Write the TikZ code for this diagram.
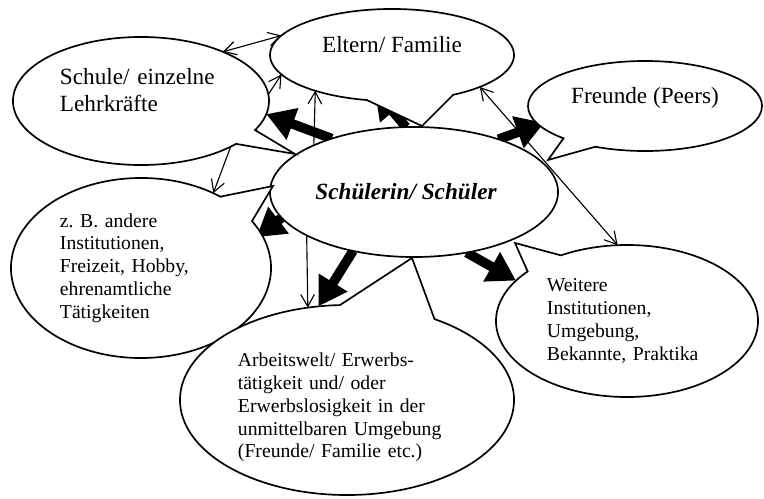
\documentclass[tikz,border=0pt]{standalone}
\usepackage{fontspec}
\setmainfont{Liberation Serif}
\usetikzlibrary{shapes.callouts,shapes.geometric,arrows.meta}
\pgfdeclarelayer{background}
\pgfsetlayers{background,main}
\frenchspacing

\begin{document}
\begin{tikzpicture}[x=0.025cm, y=-0.025cm,
    bubble/.style={ellipse callout, draw, fill=white, line width=1.2pt,
      inner sep=0pt, outer sep=0pt},
    pupilbox/.style={ellipse, draw, fill=white, line width=1.2pt,
      inner sep=0pt, outer sep=0pt},
    bigtext/.style={font=\fontsize{16.5}{19}\selectfont},
    smalltext/.style={font=\fontsize{14}{16.2}\selectfont, align=left},
    link/.style={line width=0.8pt, >={Straight Barb[length=3mm,width=3.4mm]}},
    bigarrow/.style={line width=0.24cm, -{Triangle[length=0.7cm,width=0.8cm]}}]

    % --- НАСТРОЙКИ ---
    \useasboundingbox (0,0) rectangle (764,499);

    % Кончики выносок (куда смотрят "хвосты" овалов)
    \coordinate (schooltip)  at (295,154);
    \coordinate (familytip)  at (422,126);
    \coordinate (friendstip) at (548,160);
    \coordinate (othertip)   at (273,186);
    \coordinate (worktip)    at (412,258);
    \coordinate (furthertip) at (515,243);

    % --- ЦЕНТР ---
    \node[pupilbox, minimum width=7.2cm, minimum height=3.25cm,
      font=\fontsize{16.5}{19}\bfseries\itshape\selectfont]
      (pupil) at (414,192) {Schülerin/ Schüler\hspace*{0.4cm}};

    % --- ВЫНОСКИ ---
    \node[bubble, bigtext, text width=4.05cm, align=left, text depth=1.22cm,
      minimum width=6.4cm, minimum height=3.2cm,
      callout absolute pointer={(schooltip)}, callout pointer arc=15]
      (school) at (141,101) {Schule/ einzelne\\Lehrkräfte};

    \node[bubble, bigtext, text depth=0.55cm,
      minimum width=6.1cm, minimum height=2.3cm,
      callout absolute pointer={(familytip)}, callout pointer arc=42]
      (family) at (392,55) {Eltern/ Familie};

    \node[bubble, bigtext, text depth=0.55cm,
      minimum width=5.85cm, minimum height=2.25cm,
      callout absolute pointer={(friendstip)}, callout pointer arc=19]
      (friends) at (645,106) {Freunde (Peers)};

    \node[bubble, smalltext, text width=4.05cm,
      minimum width=6.5cm, minimum height=4.5cm,
      callout absolute pointer={(othertip)}, callout pointer arc=21]
      (other) at (141,268)
      {z. B. andere\\Institutionen,\\Freizeit, Hobby,\\ehrenamtliche\\Tätigkeiten};

    % текст чуть ниже центра, как на скетче
    \node[bubble, smalltext, text width=5.45cm, text depth=2.0cm,
      minimum width=8.35cm, minimum height=4.75cm,
      callout absolute pointer={(worktip)}, callout pointer arc=34]
      (work) at (347,400)
      {Arbeitswelt/ Erwerbs-\\tätigkeit und/ oder\\Erwerbslosigkeit in der\\unmittelbaren Umgebung\\(Freunde/ Familie etc.)};

    \node[bubble, smalltext, text width=4.0cm,
      minimum width=6.55cm, minimum height=3.8cm,
      callout absolute pointer={(furthertip)}, callout pointer arc=19]
      (further) at (627,321)
      {Weitere\\Institutionen,\\Umgebung,\\Bekannte, Praktika};

    % --- ЖИРНЫЕ СТРЕЛКИ (под овалами) ---
    \begin{pgfonlayer}{background}
        \draw[bigarrow] (pupil.147) -- (school.-6);
        \draw[bigarrow, shorten >=-0.35cm] (pupil.97) -- (family.-100);
        \draw[bigarrow, shorten >=-0.15cm] (pupil.32) -- (friends.190);
        \draw[bigarrow, shorten <=-1.2cm, shorten >=-0.15cm] (pupil.191) -- (other.16);
        \draw[bigarrow] (pupil.224) -- (work.107);
        \draw[bigarrow] (pupil.-49) -- (further.160);
    \end{pgfonlayer}

    % --- ТОНКИЕ СТРЕЛКИ ---
    \draw[link, <->] (school.31) -- (family.170);
    \draw[link, ->] (school.3) -- (family.190);
    \draw[link, ->] (pupil.155) -- (family.205);
    \draw[link, ->] (school.-27) -- (other.46);
    \draw[link, ->] (pupil.202) -- (work.113);
    \draw[link, <->] (family.-20) -- (further.97);

\end{tikzpicture}
\end{document}
